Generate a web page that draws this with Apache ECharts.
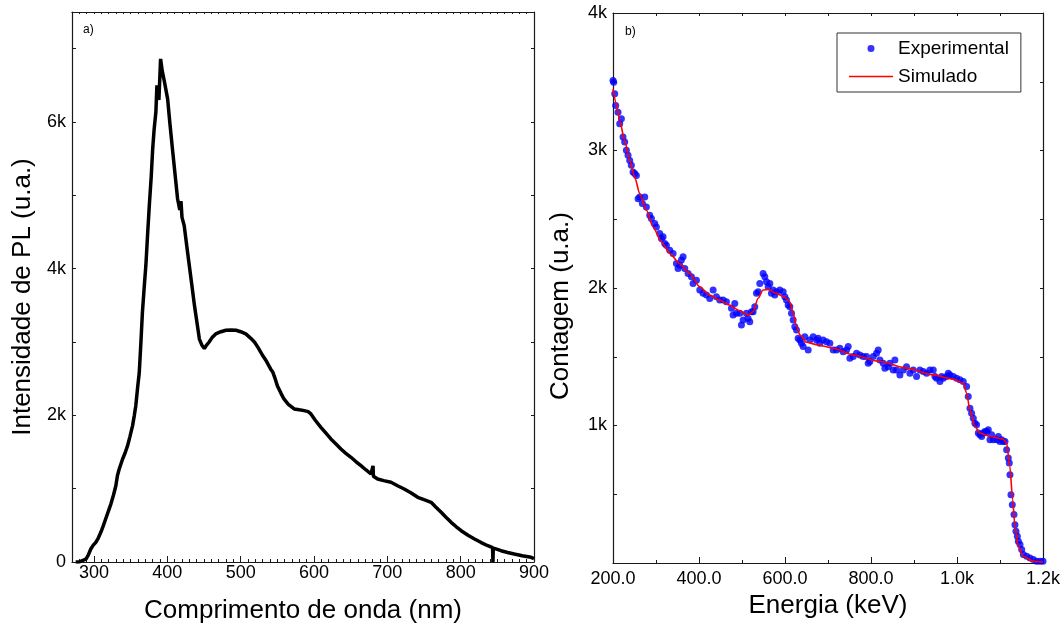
<!DOCTYPE html>
<html>
<head>
<meta charset="utf-8">
<script src="https://cdn.jsdelivr.net/npm/echarts@6/dist/echarts.min.js"></script>
<style>
html,body{margin:0;padding:0;background:#fff;}
#chart{width:1064px;height:625px;}
</style>
</head>
<body>
<div id="chart"></div>
<script>
// ---- Panel a) photoluminescence spectrum: [wavelength nm, intensity] ----
var plSpectrum = [
  [275,0],[280,0],[284,20],[289,40],[292,90],[295.6,177],[299,230],[302.5,268],[306,330],
  [309.3,405],[312.5,490],[316,590],[319.5,690],[323,790],[326.5,910],[329.8,1040],[332,1180],
  [334.4,1268],[336.5,1330],[339,1405],[342.5,1490],[345.8,1586],[349,1710],[352.6,1860],
  [355,2000],[357,2132],[359.5,2380],[361.7,2580],[364,3000],[366,3400],[368.5,3750],
  [370.7,4040],[373,4450],[375.4,4860],[378,5250],[380,5630],[382,5900],[384.4,6140],
  [385.8,6500],[388.5,6300],[390.8,6860],[393,6700],[396,6550],[400.4,6315],[403.5,5980],
  [407,5630],[410.5,5290],[414,4950],[417,4800],[418.6,4920],[420,4700],[423,4587],
  [426.5,4310],[430,4040],[433.5,3770],[437,3496],[440.5,3260],[443.7,3040],[447,2960],
  [450.5,2910],[453,2950],[457,3000],[461,3060],[466,3110],[473,3140],[480,3160],[487,3165],
  [493.7,3160],[500,3140],[507,3110],[513.8,3050],[518.8,3000],[524,2920],[527.5,2860],
  [530,2815],[535,2740],[541,2630],[543.8,2590],[547,2500],[550,2405],[555,2300],[559,2223],
  [565,2150],[573,2087],[580,2075],[586.6,2064],[592,2050],[595.8,2019],[602,1930],
  [609.4,1837],[616,1760],[623,1678],[630,1610],[636.7,1541],[643,1485],[650.4,1428],
  [657,1370],[664,1314],[671,1255],[677.7,1200],[680,1180],[680.5,1310],[681,1170],
  [686.8,1132],[695,1110],[705,1087],[714,1040],[723,996],[732,945],[741.5,882],[750,850],
  [759.7,814],[766,750],[773.4,678],[780,610],[787,541],[794,480],[800.7,427],[810,365],
  [818.9,314],[828,265],[837,222],[843.5,195],[844,0],[844.5,190],[849,175],[855,154],
  [864,130],[873,109],[884,85],[896,64],[900,45]
];

// ---- Panel b) experimental counts: [energy keV, counts] ----
var experimental = [
  [200,3509],[201.6,3497],[204,3412],[206.3,3327],[211.7,3279],[215.6,3194],[219.5,3231],
  [223.3,3098],[227.2,3061],[231.1,3001],[235,2965],[238.9,2928],[242.7,2892],[246.6,2844],
  [250.5,2832],[254.4,2819],[258.3,2650],[262.1,2662],[268.3,2614],[273.8,2662],[277.6,2590],
  [285.4,2529],[289.3,2505],[297,2469],[300.9,2444],[308.7,2396],[312.6,2360],[316.4,2372],
  [320.3,2324],[324.2,2311],[332,2275],[339.7,2251],[347.5,2178],[351.3,2142],[355.2,2166],
  [359.1,2203],[363,2227],[366.9,2142],[374.6,2106],[382.4,2082],[386.2,2033],[394,2057],
  [401.8,1985],[409.5,1961],[417.3,1949],[425,1924],[432.8,1985],[440.5,1937],[448.3,1912],
  [456,1912],[463.8,1900],[475.5,1852],[479.3,1803],[483.2,1888],[487.1,1816],[494.8,1816],
  [498.7,1731],[502.6,1767],[510.4,1816],[514.2,1779],[518.1,1755],[522,1828],[525.9,1828],
  [529.7,1864],[533.6,1961],[537.5,1973],[541.4,2033],[549.1,2106],[553,2082],[556.9,2045],
  [560.8,2009],[564.7,2033],[568.5,1961],[572.4,1985],[576.3,1949],[580.2,1973],[587.9,1985],
  [595.7,1973],[599.6,1937],[603.4,1912],[607.3,1876],[611.2,1864],[615.1,1816],[619,1767],
  [622.8,1719],[626.7,1695],[630.6,1634],[634.5,1622],[638.3,1598],[642.2,1574],[646.1,1646],
  [653.9,1550],[657.7,1622],[665.5,1646],[673.3,1622],[677.1,1634],[681,1598],[688.8,1622],
  [696.6,1610],[704.3,1598],[712.1,1549],[719.8,1549],[727.6,1561],[735.3,1537],[743.1,1549],
  [747,1574],[750.9,1489],[758.6,1501],[766.4,1525],[774.1,1513],[781.9,1501],[789.6,1501],
  [793.5,1453],[797.4,1465],[805.2,1501],[812.9,1525],[816.8,1549],[820.7,1477],[828.4,1453],
  [832.3,1416],[840.1,1428],[843.9,1453],[851.7,1404],[855.6,1477],[859.5,1404],[867.2,1368],
  [875,1404],[882.7,1428],[890.5,1380],[898.2,1404],[906,1356],[913.8,1404],[921.5,1392],
  [929.3,1380],[937,1404],[944.8,1404],[948.7,1356],[952.5,1344],[960.3,1320],[964.2,1356],
  [968,1344],[975.8,1356],[979.7,1380],[983.6,1368],[991.3,1356],[999.1,1344],[1006.8,1332],
  [1014.6,1320],[1022.4,1283],[1026.2,1211],[1030.1,1126],[1034,1090],[1037.9,1053],
  [1041.7,1017],[1045.6,1005],[1049.5,945],[1053.4,932],[1057.3,920],[1061.1,945],[1065,957],
  [1068.9,957],[1072.8,969],[1076.6,896],[1080.5,932],[1084.4,896],[1092.2,896],[1096.1,920],
  [1099.9,884],[1103.8,896],[1107.7,884],[1111.6,884],[1115.4,824],[1119.3,763],[1121.6,727],
  [1123.2,642],[1125.5,497],[1128.6,424],[1132.5,352],[1134.8,279],[1137.2,231],[1140.3,195],
  [1142.6,158],[1146.5,134],[1150.4,98],[1154.2,62],[1162,49],[1169.8,37],[1177.5,25],
  [1185.3,13],[1193,13],[1200,13]
];

// ---- Panel b) simulated curve: [energy keV, counts] ----
var simulated = [
  [200,3449],[208,3340],[215.6,3218],[227,3073],[238.9,2928],[250.5,2807],[262,2687],
  [277.7,2565],[293,2444],[312.6,2335],[332,2251],[354.8,2178],[378,2106],[401.7,2009],
  [425,1948],[448,1912],[471,1876],[494.5,1835],[514,1803],[525.8,1827],[537.5,1925],
  [549,1985],[560.7,1990],[580,1961],[599.6,1932],[611,1900],[619,1816],[627,1718],
  [634.5,1660],[650,1605],[677,1586],[712,1562],[758.5,1513],[820.6,1465],[882.6,1417],
  [944.6,1368],[991,1337],[1014.6,1308],[1022.4,1235],[1030,1114],[1041.7,993],[1053.3,945],
  [1076.6,920],[1107.6,901],[1115.4,872],[1123,702],[1129.3,461],[1134.8,267],[1142.5,122],
  [1154,49],[1177.4,13],[1200,6]
];

// ---- tick values ----
var plMajorTicks = [300,400,500,600,700,800,900];
var seriesNames = ['Experimental','Simulado'];
var panelLabels = ['a)','b)'];

var FONT = 'Liberation Sans, Arial, Helvetica, sans-serif';
var AX = '#1a1a1a';

function frameAxis(extra){
  var base = {
    type:'value', axisLine:{show:true,lineStyle:{color:AX,width:1.2}},
    axisTick:{show:true,inside:true,length:3,lineStyle:{color:AX}},
    axisLabel:{show:false}, splitLine:{show:false}
  };
  for (var k in extra) base[k]=extra[k];
  return base;
}

var dotIcon = 'path://M0,0L0.01,0L0,0.01Z M44,14L44.01,14L44,14.01Z M22,7m-3.5,0a3.5,3.5 0 1,0 7,0a3.5,3.5 0 1,0 -7,0Z';
var lineIcon = 'path://M0,0L0.01,0L0,0.01Z M44,14L44.01,14L44,14.01Z M0,6.2L44,6.2L44,7.8L0,7.8Z';

var chart = echarts.init(document.getElementById('chart'), null, {renderer:'canvas'});
var option = {
  animation:false,
  backgroundColor:'#fff',
  textStyle:{fontFamily:FONT},
  grid:[
    {left:72, top:12, width:462, height:550, show:false, containLabel:false, outerBoundsMode:'none'},
    {left:613, top:13, width:430, height:550, show:false, containLabel:false, outerBoundsMode:'none'}
  ],
  graphic:[
    {type:'text', left:83, top:24, style:{text:panelLabels[0], font:'12px '+FONT, fill:'#000'}},
    {type:'text', left:625, top:26, style:{text:panelLabels[1], font:'12px '+FONT, fill:'#000'}}
  ],
  legend:{
    data:[{name:seriesNames[0], icon:dotIcon}, {name:seriesNames[1], icon:lineIcon}],
    orient:'vertical',
    left:837, top:33,
    padding:[6,12,6,12],
    itemWidth:44, itemHeight:14, itemGap:9,
    borderColor:'#333', borderWidth:1, borderRadius:0,
    textStyle:{fontSize:19, color:'#000', fontFamily:FONT},
    selectedMode:false
  },
  xAxis:[
    frameAxis({gridIndex:0, min:270, max:900, interval:10, position:'bottom',
      axisTick:{show:true,inside:true,length:3,lineStyle:{color:AX}},
      axisLabel:{show:true, margin:2, fontSize:18, color:'#000', fontFamily:FONT,
        formatter:function(v){return (v%100===0)?String(v):'';}},
      name:'Comprimento de onda (nm)', nameLocation:'middle', nameGap:36,
      nameTextStyle:{fontSize:26, color:'#000', fontFamily:FONT}}),
    frameAxis({gridIndex:0, min:270, max:900, position:'bottom', axisLine:{show:false},
      axisTick:{show:true,inside:true,length:6,customValues:plMajorTicks,lineStyle:{color:AX}}}),
    frameAxis({gridIndex:0, min:270, max:900, interval:10, position:'top',
      axisTick:{show:true,inside:true,length:2,lineStyle:{color:AX}}}),
    frameAxis({gridIndex:1, min:200, max:1200, interval:100, position:'bottom',
      axisTick:{show:true,inside:true,length:3,lineStyle:{color:AX}},
      axisLabel:{show:true, margin:7, fontSize:18, color:'#000', fontFamily:FONT,
        formatter:function(v){
          if (v%200!==0) return '';
          if (v>=1000) return (v/1000).toFixed(1)+'k';
          return v.toFixed(1);
        }},
      name:'Energia (keV)', nameLocation:'middle', nameGap:29,
      nameTextStyle:{fontSize:26, color:'#000', fontFamily:FONT}}),
    frameAxis({gridIndex:1, min:200, max:1200, interval:200, position:'bottom', axisLine:{show:false},
      axisTick:{show:true,inside:true,length:6,lineStyle:{color:AX}}}),
    frameAxis({gridIndex:1, min:200, max:1200, interval:100, position:'top',
      axisTick:{show:true,inside:true,length:3,lineStyle:{color:AX}}})
  ],
  yAxis:[
    frameAxis({gridIndex:0, min:0, max:7500, interval:1000, position:'left',
      axisTick:{show:true,inside:true,length:4,lineStyle:{color:AX}},
      axisLabel:{show:true, margin:6, fontSize:18, color:'#000', fontFamily:FONT,
        formatter:function(v){ if (v%2000!==0) return ''; return v===0?'0':(v/1000)+'k'; }},
      name:'Intensidade de PL (u.a.)', nameLocation:'middle', nameGap:36,
      nameTextStyle:{fontSize:26, color:'#000', fontFamily:FONT, padding:[0,20,0,0]}}),
    frameAxis({gridIndex:0, min:0, max:7500, interval:1000, position:'right',
      axisTick:{show:true,inside:true,length:3,lineStyle:{color:AX}}}),
    frameAxis({gridIndex:1, min:0, max:4000, interval:500, position:'left',
      axisTick:{show:true,inside:true,length:4,lineStyle:{color:AX}},
      axisLabel:{show:true, margin:6, fontSize:18, color:'#000', fontFamily:FONT,
        formatter:function(v){ return (v>0 && v%1000===0)?(v/1000)+'k':''; }},
      name:'Contagem (u.a.)', nameLocation:'middle', nameGap:39,
      nameTextStyle:{fontSize:26, color:'#000', fontFamily:FONT, padding:[0,36,0,0]}}),
    frameAxis({gridIndex:1, min:0, max:4000, interval:500, position:'right',
      axisTick:{show:true,inside:true,length:3,lineStyle:{color:AX}}})
  ],
  series:[
    {type:'line', xAxisIndex:0, yAxisIndex:0, data:plSpectrum, symbol:'none',
      lineStyle:{color:'#000', width:3.5}, z:3},
    {name:seriesNames[0], type:'scatter', xAxisIndex:3, yAxisIndex:2, data:experimental,
      symbol:'circle', symbolSize:7, itemStyle:{color:'#0000ff'}, z:3},
    {name:seriesNames[1], type:'line', xAxisIndex:3, yAxisIndex:2, data:simulated,
      symbol:'none', smooth:0.25, smoothMonotone:'x',
      lineStyle:{color:'#ff0000', width:1.6}, itemStyle:{color:'#ff0000'}, z:4}
  ]
};
chart.setOption(option);
</script>
</body>
</html>
